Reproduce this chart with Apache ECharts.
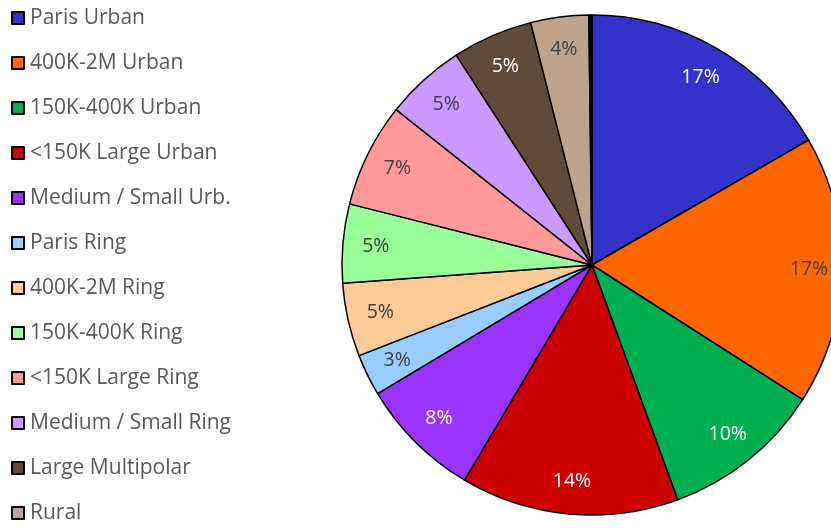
<!DOCTYPE html>
<html>
<head>
<meta charset="utf-8">
<script src="https://cdn.jsdelivr.net/npm/echarts@6/dist/echarts.min.js"></script>
<style>
  html, body { margin: 0; padding: 0; background: #fff; }
  #main { width: 831px; height: 528px; }
</style>
</head>
<body>
<div id="main"></div>
<script>
  // categories and shares (percent of total)
  var categories = ['Paris Urban', '400K-2M Urban', '150K-400K Urban', '<150K Large Urban',
    'Medium / Small Urb.', 'Paris Ring', '400K-2M Ring', '150K-400K Ring', '<150K Large Ring',
    'Medium / Small Ring', 'Large Multipolar', 'Rural']
  var shares = [16.7, 17.4, 10.4, 14.1, 7.9, 2.7, 4.75, 5.1, 6.75, 5.2, 5.2, 3.75]
  var colors = ['#3333CC', '#FF6600', '#00B050', '#CC0000', '#9933FF', '#99CCFF',
    '#FFCC99', '#99FF99', '#FF9999', '#CC99FF', '#624A39', '#BFA38D']
  var labelColors = ['#fff', '#404040', '#fff', '#fff', '#fff', '#404040',
    '#404040', '#404040', '#404040', '#404040', '#fff', '#404040']
  // thin unlabeled sliver at 12 o'clock
  var sliver = 0.2

  var myChart = echarts.init(document.getElementById('main'))

  var pieData = []
  var labelData = []
  for (var i = 0; i < categories.length; i++) {
    pieData.push({ name: categories[i], value: shares[i], itemStyle: { color: colors[i] } })
    labelData.push({ name: categories[i], value: shares[i], label: { color: labelColors[i] } })
  }
  pieData.push({ name: 'other', value: sliver, itemStyle: { color: '#000' } })
  labelData.push({ name: 'other', value: sliver, label: { show: false } })

  var option = {
    animation: false,
    legend: {
      orient: 'vertical',
      left: 11,
      top: 7,
      height: 521,
      padding: 0,
      icon: 'rect',
      itemWidth: 12,
      itemHeight: 12,
      itemGap: 23,
      selectedMode: false,
      itemStyle: { borderColor: '#000', borderWidth: 2 },
      textStyle: { fontFamily: 'Open Sans', fontSize: 21, color: '#595959', lineHeight: 22, padding: [0, 0, 0, 1] },
      data: categories
    },
    series: [{
      type: 'pie',
      center: [592, 265],
      radius: [0, 250],
      startAngle: 90,
      clockwise: true,
      silent: true,
      avoidLabelOverlap: false,
      label: { show: false },
      labelLine: { show: false },
      itemStyle: { borderColor: '#000', borderWidth: 1.5 },
      data: pieData
    }, {
      // label ring only, puts text at ~0.86 of the radius
      type: 'pie',
      center: [592, 265],
      radius: [178, 250],
      startAngle: 90,
      clockwise: true,
      silent: true,
      avoidLabelOverlap: false,
      itemStyle: { color: 'rgba(0,0,0,0)' },
      label: {
        show: true,
        position: 'inside',
        fontFamily: 'Open Sans',
        fontSize: 19.5,
        formatter: function (p) { return Math.round(p.value) + '%' }
      },
      labelLine: { show: false },
      data: labelData
    }]
  }
  myChart.setOption(option)
</script>
</body>
</html>
